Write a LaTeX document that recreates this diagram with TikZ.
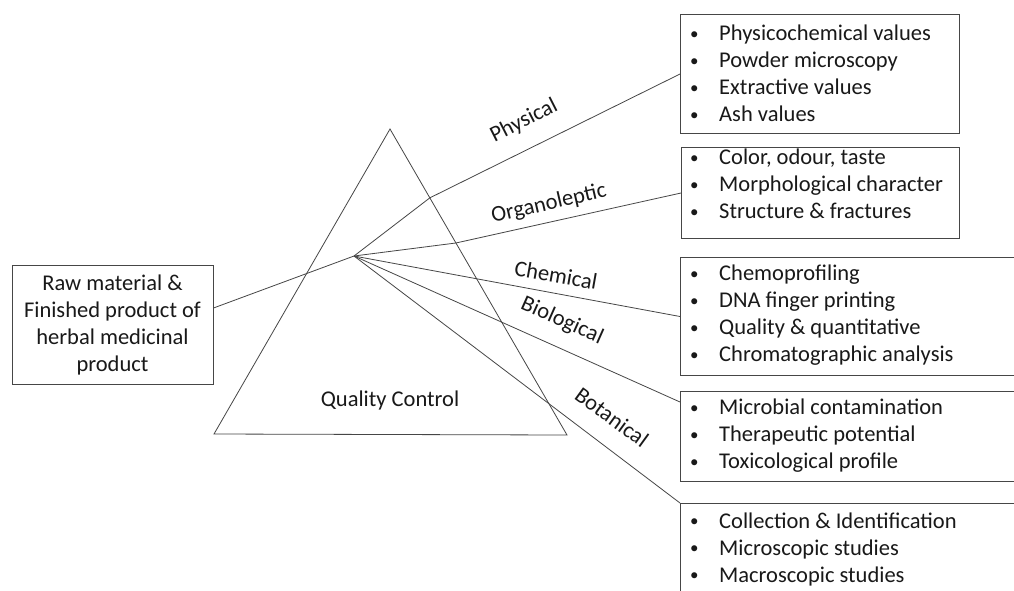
\documentclass[tikz,border=0pt]{standalone}
\usepackage{fontspec}
\setmainfont{Carlito}
\usetikzlibrary{calc}
\definecolor{ln}{RGB}{70,70,70}
\definecolor{tx}{RGB}{25,25,25}
\newcommand{\bul}{\makebox[29pt][l]{\raisebox{1.2pt}{\fontsize{17}{17}\selectfont •}}}
\tikzset{
  every node/.style={text=tx, font=\fontsize{22.5}{27}\selectfont},
  frame/.style={draw=ln, line width=1pt, inner sep=0pt, anchor=north west},
  listtext/.style={align=left, inner sep=0pt, anchor=west},
  ray/.style={draw=ln, line width=0.8pt},
  lab/.style={inner sep=0pt}
}
\begin{document}
\begin{tikzpicture}[x=1pt,y=-1pt]
\useasboundingbox[fill=white] (0,0) rectangle (1014,590);

% left box
\node[draw=ln, line width=1pt, minimum width=201pt, minimum height=119pt, align=center, inner sep=0pt] (raw) at (112.5,324.5)
  {Raw material \&\\Finished product of\\herbal medicinal\\product};

% triangle
\coordinate (A) at (390,129);
\coordinate (B) at (214,434);
\coordinate (C) at (567,435);
\draw[ray] (A) -- (B) -- (C) -- cycle;
\node (qc) at (390,400) {Quality Control};

\coordinate (P) at (354,256);

% boxes
\node[frame, minimum width=279pt, minimum height=119pt] (b1) at (680,14) {};
\node[listtext] (t1) at (690,73.5) {\bul Physicochemical values\\\bul Powder microscopy\\\bul Extractive values\\\bul Ash values};

\node[frame, minimum width=278pt, minimum height=91pt] (b2) at (681,147) {};
\node[listtext] (t2) at (690,184) {\bul Color, odour, taste\\\bul Morphological character\\\bul Structure \& fractures};

\node[frame, minimum width=350pt, minimum height=118pt] (b3) at (680,257) {};
\node[listtext] (t3) at (690,315.5) {\bul Chemoprofiling\\\bul DNA finger printing\\\bul Quality \& quantitative\\\bul Chromatographic analysis};

\node[frame, minimum width=350pt, minimum height=90pt] (b4) at (680,391) {};
\node[listtext] (t4) at (690,435.5) {\bul Microbial contamination\\\bul Therapeutic potential\\\bul Toxicological profile};

\node[frame, minimum width=350pt, minimum height=110pt] (b5) at (680,503) {};
\node[listtext] (t5) at (690,549) {\bul Collection \& Identification\\\bul Microscopic studies\\\bul Macroscopic studies};

% rays
\draw[ray] ([yshift=16.5pt]raw.east) -- (P);
\draw[ray] (P) -- ($(A)!0.225!(C)$) -- (b1.west);
\draw[ray] (P) -- ($(A)!0.3725!(C)$) -- (b2.west);
\draw[ray] (P) -- (b3.west);
\draw[ray] (P) -- ([yshift=-11pt]b4.north west);
\draw[ray] (P) -- (b5.north west);

% labels
\node[lab, rotate=27] (lphys) at (524,121) {Physical};
\node[lab, rotate=13] (lorg) at (549,204) {Organoleptic};
\node[lab, rotate=-10] (lchem) at (556,275) {Chemical};
\node[lab, rotate=-24] (lbio) at (562,321) {Biological};
\node[lab, rotate=-36] (lbot) at (612,417) {Botanical};
\end{tikzpicture}
\end{document}
